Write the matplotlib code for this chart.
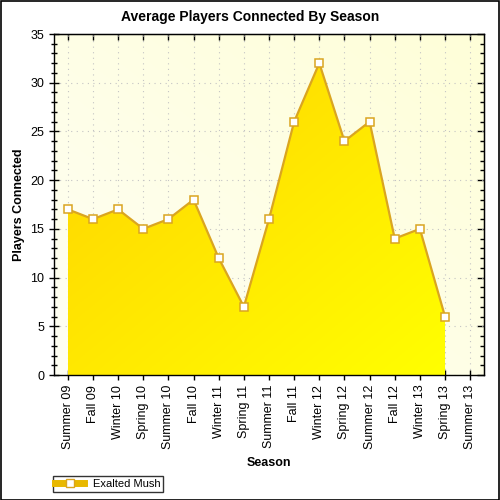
import numpy as np
import matplotlib
matplotlib.use('Agg')
import matplotlib.pyplot as plt
from matplotlib.colors import LinearSegmentedColormap
from matplotlib.patches import Rectangle
from matplotlib.lines import Line2D

# --- data -------------------------------------------------------------------
seasons = ['Summer 09', 'Fall 09', 'Winter 10', 'Spring 10', 'Summer 10',
           'Fall 10', 'Winter 11', 'Spring 11', 'Summer 11', 'Fall 11',
           'Winter 12', 'Spring 12', 'Summer 12', 'Fall 12', 'Winter 13',
           'Spring 13', 'Summer 13']
players = [17, 16, 17, 15, 16, 18, 12, 7, 16, 26, 32, 24, 26, 14, 15, 6]
series_name = 'Exalted Mush'

plt.rcParams['font.family'] = ['Liberation Sans', 'DejaVu Sans']

fig = plt.figure(figsize=(5, 5), dpi=100)
ax = fig.add_axes([0.108, 0.25, 0.86, 0.682])

x = np.arange(len(players))
y = np.array(players)
ax.set_xlim(-0.55, len(seasons) - 0.45)
ax.set_ylim(0, 35)

# plot background gradient
bg = LinearSegmentedColormap.from_list('bg', ['#FEFEF4', '#FFFFD8'])
gx, gy = np.meshgrid(np.linspace(0, 1, 200), np.linspace(0, 1, 200))
ax.imshow((gx + (1 - gy)) / 2, cmap=bg, extent=[*ax.get_xlim(), 0, 35],
          origin='upper', aspect='auto', zorder=0)

# gradient filled area, clipped to the data polygon
poly = ax.fill_between(x, y, 0, color='none', zorder=2)
fillmap = LinearSegmentedColormap.from_list('fill', ['#FFD200', '#FFFF00'])
img = ax.imshow((gx + gy) / 2, cmap=fillmap,
                extent=[x[0], x[-1], 0, y.max()], origin='upper',
                aspect='auto', zorder=2)
img.set_clip_path(poly.get_paths()[0], transform=ax.transData)

ax.plot(x, y, color='#DAA520', lw=1.6, marker='s', ms=5.5,
        mfc='white', mec='#DAA520', mew=1.1, zorder=4, clip_on=False)

# grid and ticks
ax.set_xticks(np.arange(len(seasons)))
ax.set_xticklabels(seasons, rotation=90, fontsize=9)
ax.set_yticks(np.arange(0, 36, 5))
ax.set_yticks(np.arange(0, 36, 1), minor=True)
ax.tick_params(axis='y', labelsize=9)
ax.grid(True, which='major', color='#C4C4C4', linestyle=(0, (1, 4)), lw=0.8)
for gl in ax.get_xgridlines() + ax.get_ygridlines():
    gl.set_zorder(1)

ax.tick_params(which='both', direction='inout', width=1, colors='black')
ax.tick_params(which='major', length=7)
ax.tick_params(which='minor', length=4)
for s in ax.spines.values():
    s.set_linewidth(1)
    s.set_zorder(5)

# top and right axes carry inward ticks only
top = ax.secondary_xaxis('top')
top.set_xticks(np.arange(len(seasons)))
top.tick_params(direction='in', length=4, width=1, labeltop=False)
right = ax.secondary_yaxis('right')
right.set_yticks(np.arange(0, 36, 5))
right.set_yticks(np.arange(0, 36, 1), minor=True)
right.tick_params(which='both', direction='in', width=1, labelright=False)
right.tick_params(which='major', length=5)
right.tick_params(which='minor', length=3)

fig.suptitle('Average Players Connected By Season', fontsize=10,
             fontweight='bold', x=0.5, y=0.98)
ax.set_xlabel('Season', fontsize=9, fontweight='bold', labelpad=6)
ax.set_ylabel('Players Connected', fontsize=9, fontweight='bold', labelpad=4)

# legend
handle = Line2D([], [], color='#E8B800', lw=5, marker='s', ms=6,
                mfc='white', mec='#DAA520')
leg = fig.legend([handle], [series_name], loc='lower left',
                 bbox_to_anchor=(0.105, 0.017), fontsize=8, frameon=True,
                 fancybox=False, edgecolor='black', borderpad=0.25,
                 handlelength=2.6, handletextpad=0.8, borderaxespad=0)
leg.get_frame().set_linewidth(1)

# outer border
fig.patches.append(Rectangle((0.001, 0.001), 0.997, 0.997, transform=fig.transFigure,
                             fill=False, edgecolor='black', lw=1.2))

fig.savefig('out.png', dpi=100)
